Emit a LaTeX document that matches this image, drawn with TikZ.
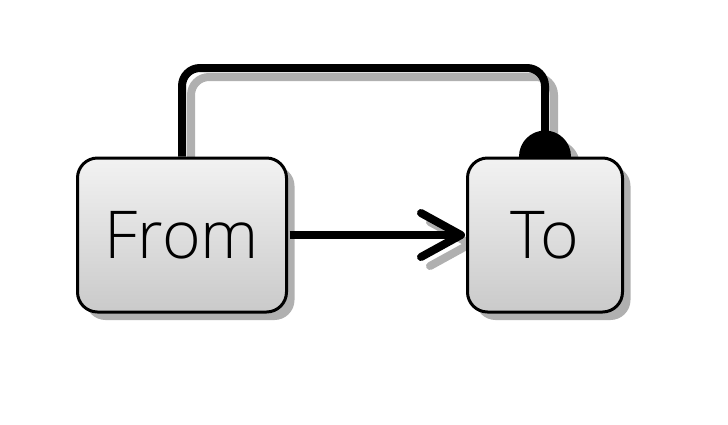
\documentclass[tikz,border=0pt]{standalone}
\usepackage{fontspec}
\setmainfont{Open Sans}[UprightFont=* Light]
\usetikzlibrary{shadows}
\pgfdeclarelayer{background}
\pgfsetlayers{background,main}
\definecolor{shadowgray}{HTML}{B0B0B0}
\definecolor{boxtop}{HTML}{F2F2F2}
\definecolor{boxbottom}{HTML}{CACACA}
\begin{document}
\begin{tikzpicture}[x=1pt,y=-1pt,
  box/.style={draw=black, line width=3pt, rounded corners=20pt,
    top color=boxtop, bottom color=boxbottom,
    minimum width=#1, minimum height=154pt, inner sep=0pt,
    font=\fontsize{66}{70}\selectfont,
    drop shadow={shadow xshift=8pt, shadow yshift=-8pt, fill=shadowgray, opacity=1}},
  conn/.style={line width=8pt, rounded corners=18pt},
  connshadow/.style={conn, draw=shadowgray},
  barb/.style={line width=8pt, line cap=round, line join=round},
]
\useasboundingbox (0,0) rectangle (728,424);
\coordinate (ttop) at (545,68);
\node[box=209pt] (From) at (182,235) {From};
\node[box=155pt] (To) at (545,235) {To};
\begin{pgfonlayer}{background}
  % connector shadows
  \begin{scope}[transform canvas={shift={(9pt,-9pt)}}]
    \draw[connshadow] (From.north) |- (ttop) -- (To.north);
    \fill[shadowgray] (To.north) circle (26);
    \draw[barb, draw=shadowgray] ([xshift=-45pt,yshift=-22pt]To.west) -- ([xshift=-5pt]To.west) -- ([xshift=-45pt,yshift=22pt]To.west);
  \end{scope}
  % connectors
  \draw[conn] (From.north) |- (ttop) -- (To.north);
  \fill[black] (To.north) circle (26);
\end{pgfonlayer}
\draw[conn] ([xshift=1.5pt]From.east) -- ([xshift=-6pt]To.west);
\draw[barb] ([xshift=-45pt,yshift=-22pt]To.west) -- ([xshift=-5pt]To.west) -- ([xshift=-45pt,yshift=22pt]To.west);
\end{tikzpicture}
\end{document}
